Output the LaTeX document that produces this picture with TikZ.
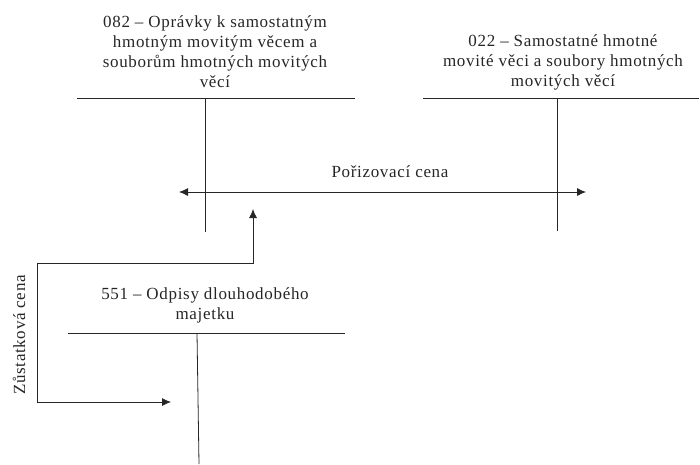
\documentclass[tikz,border=0pt]{standalone}
\usepackage{fontspec}
\setmainfont[LetterSpace=4]{Liberation Serif}
\usetikzlibrary{arrows.meta}
\begin{document}
\begin{tikzpicture}[x=1pt,y=-1pt,
  lbl/.style={font=\fontsize{17}{20}\selectfont, align=center, inner sep=0pt, text=black!85},
  tline/.style={line width=0.8pt, draw=black!85},
  arr/.style={line width=0.8pt, draw=black!85, -{Latex[length=9pt,width=8pt]}},
  darr/.style={line width=0.8pt, draw=black!85, {Latex[length=9pt,width=8pt]}-{Latex[length=9pt,width=8pt]}}]
\useasboundingbox (0,0) rectangle (700,464);
% Account 082
\node[lbl] (t082) at (215,52) {082 – Oprávky k samostatným\\hmotným movitým věcem a\\souborům hmotných movitých\\věcí};
\coordinate (a1l) at (77,98);
\coordinate (a1r) at (355,98);
\coordinate (a1t) at (205,98);
\coordinate (a1b) at (205,232);
\draw[tline] (a1l) -- (a1r);
\draw[tline] (a1t) -- (a1b);
% Account 022
\node[lbl] (t022) at (563,62) {022 – Samostatné hmotné\\movité věci a soubory hmotných\\movitých věcí};
\coordinate (a2l) at (423,98);
\coordinate (a2r) at (699,98);
\coordinate (a2t) at (557,98);
\coordinate (a2b) at (557,231);
\draw[tline] (a2l) -- (a2r);
\draw[tline] (a2t) -- (a2b);
% Pořizovací cena
\node[lbl] (pc) at (390,172) {Pořizovací cena};
\coordinate (pl) at (179,192);
\coordinate (pr) at (586,192);
\draw[darr] (pl) -- (pr);
% Account 551
\node[lbl] (t551) at (205,305) {551 – Odpisy dlouhodobého\\majetku};
\coordinate (a3l) at (68,333);
\coordinate (a3r) at (345,333);
\coordinate (a3t) at (197,333);
\coordinate (a3b) at (199,464);
\draw[tline] (a3l) -- (a3r);
\draw[tline] (a3t) -- (a3b);
% Zůstatková cena
\node[lbl, rotate=90] (zc) at (19,335) {Zůstatková cena};
\coordinate (zs) at (171,402);
\coordinate (zl) at (37,402);
\coordinate (zu) at (37,263);
\coordinate (ze) at (253,209);
\draw[arr] (zl) -- (zs);
\draw[arr] (zl) -- (zu) -| (ze);
\end{tikzpicture}
\end{document}
